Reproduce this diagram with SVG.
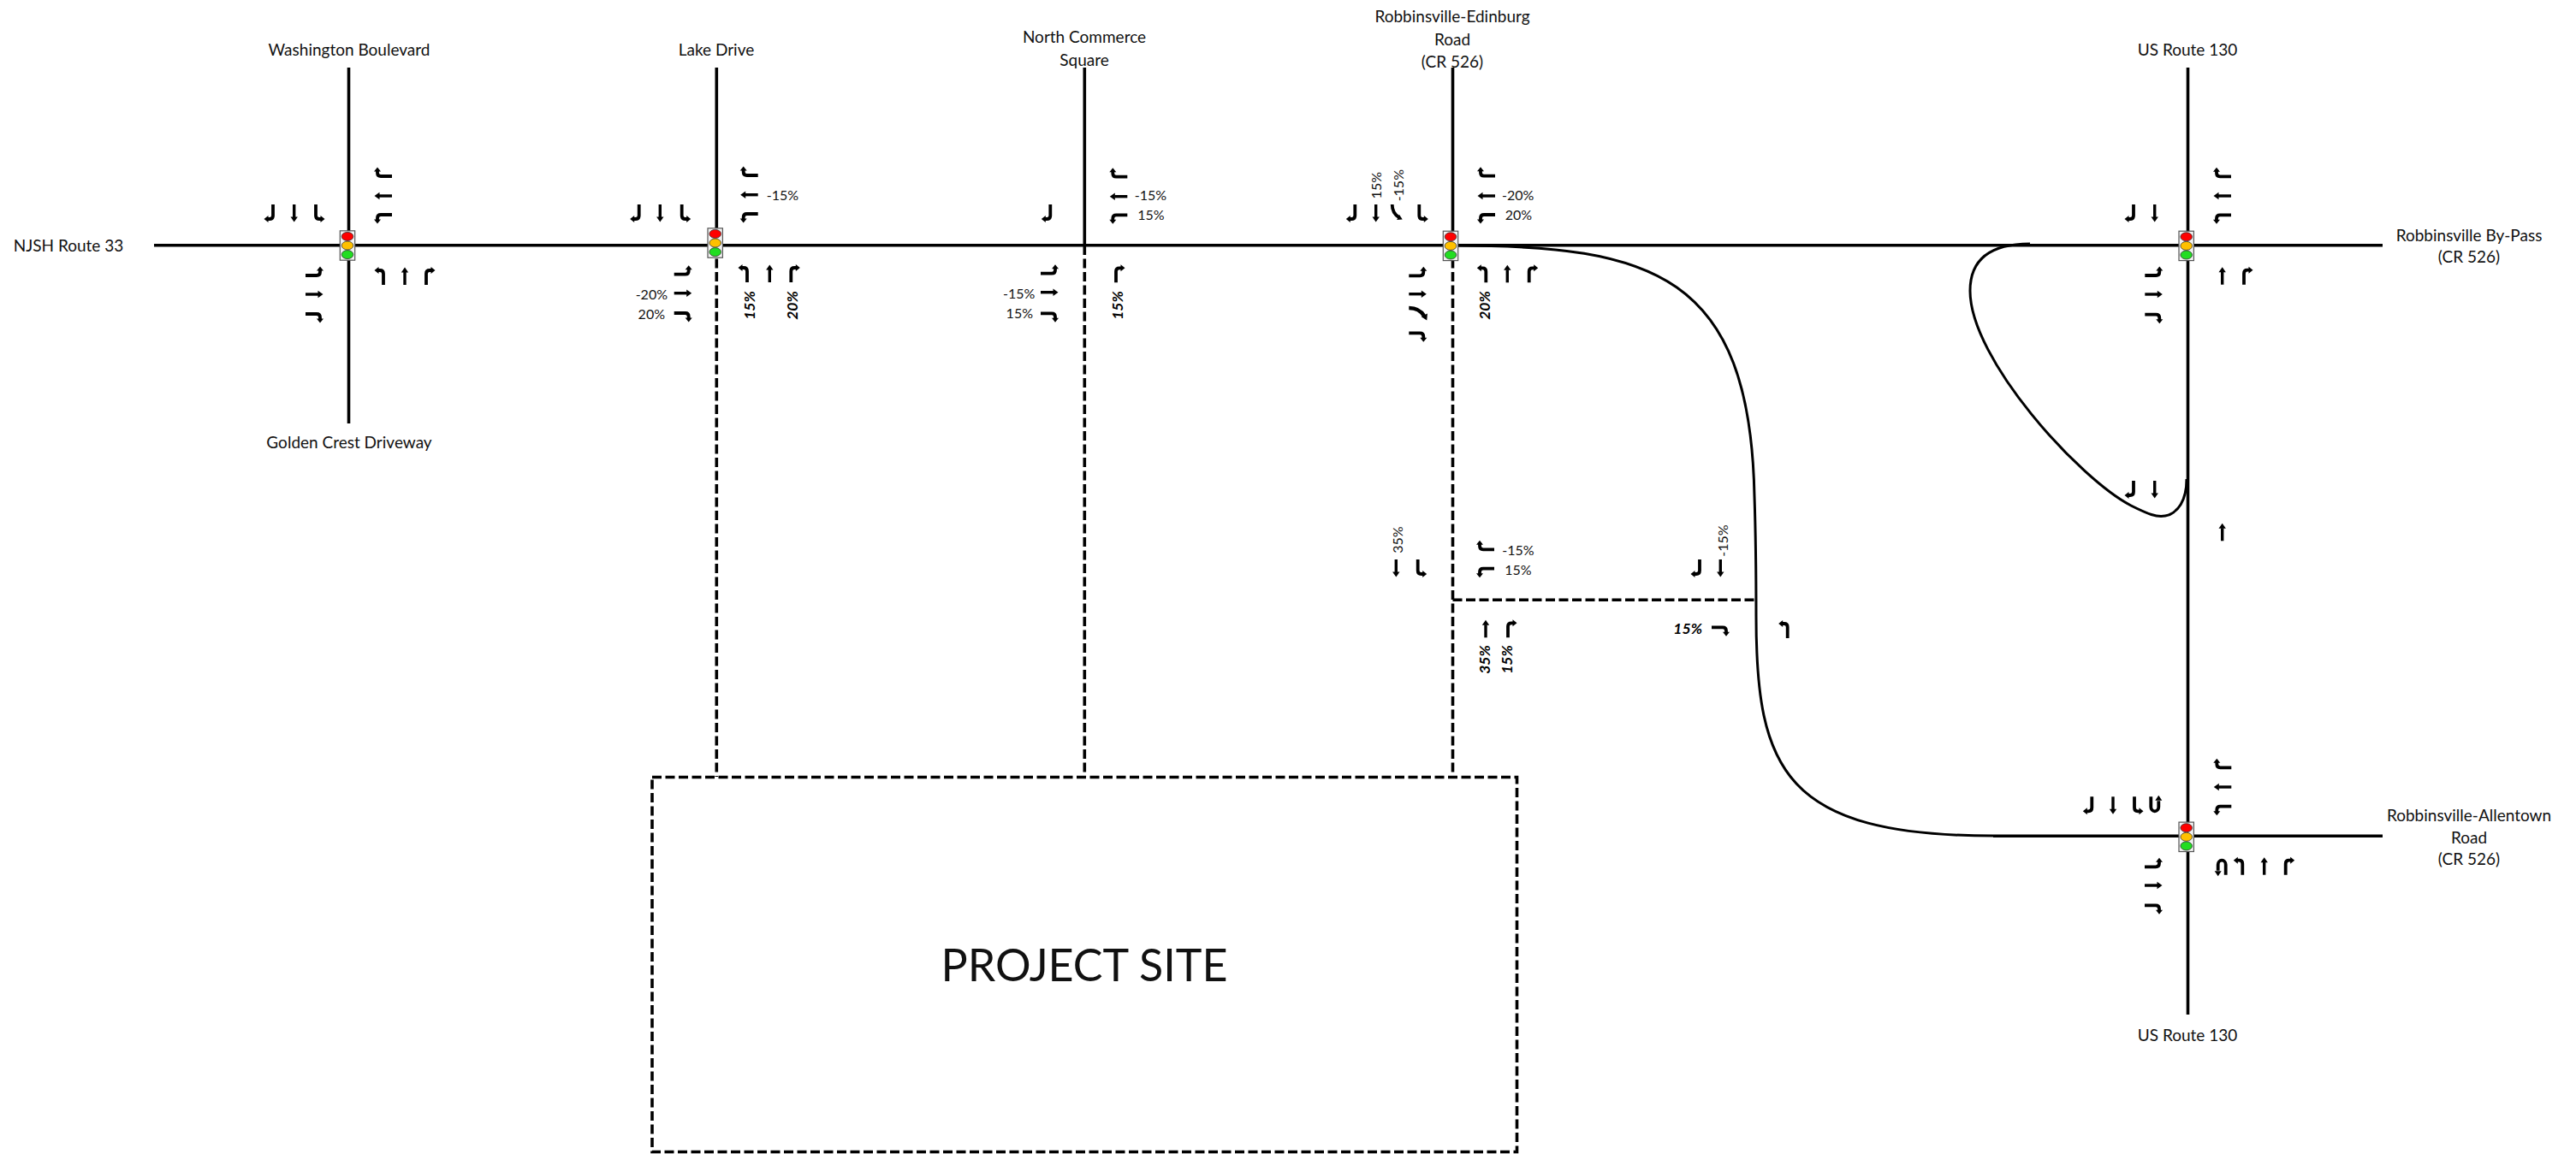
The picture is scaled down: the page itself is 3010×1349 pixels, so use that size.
<svg xmlns="http://www.w3.org/2000/svg" width="3010" height="1349" viewBox="0 0 3010 1349">
<style>
text{font-family:Lato,"Noto Sans",sans-serif;font-size:16px;fill:#111;dominant-baseline:middle}
.c{text-anchor:middle}
.e{text-anchor:end}
.n{font-size:19px;dominant-baseline:central}
.bi{font-weight:700;font-style:italic;fill:#000;font-size:17.5px}
.big{font-size:52px;text-anchor:middle}
.road{fill:none;stroke:#000;stroke-width:3.6}
.dash{fill:none;stroke:#000;stroke-width:3.6;stroke-dasharray:11 4.5}
.curve{fill:none;stroke:#000;stroke-width:3}
.a{fill:none;stroke:#000;stroke-width:3.8}
.th{fill:none;stroke:#000;stroke-width:3.4}
.h{fill:#000;stroke:none}
.box{fill:#f2f2f2;stroke:#555;stroke-width:1.2}
.lamp{stroke:#333;stroke-width:.8}
</style>
<defs>
<g id="T"><path class="th" d="M0,0V-15"/><path class="h" d="M0,-20.5L-4.2,-14.5H4.2Z"/></g>
<g id="L"><path class="a" d="M0,0V-13Q0,-17 -4,-17H-7"/><path class="h" d="M-10.5,-17L-5.5,-21V-13Z"/></g>
<g id="R"><path class="a" d="M0,0V-13Q0,-17 4,-17H7"/><path class="h" d="M10.5,-17L5.5,-21V-13Z"/></g>
<g id="BL"><path class="a" d="M0,0C0,-7 -3,-12 -8,-15"/><path class="h" d="M-12,-17.5L-5.5,-18L-8.5,-12Z"/></g>
<g id="BR"><path class="a" d="M0,0C0,-7 3,-12 8,-15"/><path class="h" d="M12,-17.5L5.5,-18L8.5,-12Z"/></g>
<g id="U"><path class="a" d="M0,0V-12A4.5,5 0 0 0 -9,-12V-5"/><path class="h" d="M-9,1.5L-13,-4.5H-5Z"/></g>
<g id="S"><rect class="box" x="-8.7" y="-17.2" width="17.4" height="34.4"/><ellipse class="lamp" cx="0" cy="-10.6" rx="6.8" ry="5" fill="#ff0000"/><ellipse class="lamp" cx="0" cy="0" rx="6.8" ry="5" fill="#ffc000"/><ellipse class="lamp" cx="0" cy="10.6" rx="6.8" ry="5" fill="#22dd22"/></g>
</defs>
<rect width="3010" height="1349" fill="#fff"/>
<g id="connectors">
<path class="road" d="M180,286.7H2784"/>
<path class="road" d="M407.5,79V495"/>
<path class="road" d="M837.3,79V287"/>
<path class="dash" d="M837.3,287V908"/>
<path class="road" d="M1267.3,79V287"/>
<path class="dash" d="M1267.3,287V908"/>
<path class="road" d="M1697.5,79V287"/>
<path class="dash" d="M1697.5,287V908"/>
<path class="dash" d="M1697.5,701.3H2052"/>
<path class="road" d="M2556.5,79V1186"/>
<path class="road" d="M2329,977.3H2784"/>
<path class="curve" d="M1700,287C1930,287 2045,320 2050,580C2052,640 2052,700 2052,720C2052,900 2085,977 2329,977"/>
<path class="curve" d="M2372,285C2330,285 2302,300 2302,340C2302,420 2430,560 2490,591C2510,601 2520,605 2530,603C2545,600 2555,585 2555,560"/>
</g>
<g id="project-site">
<rect class="dash" x="762" y="908.5" width="1010.5" height="438"/>
<text class="big" x="1267" y="1134">PROJECT SITE</text>
</g>
<g id="node-washington">
<use href="#S" x="406" y="287"/>
<use href="#R" transform="translate(319,239) rotate(180)"/>
<use href="#T" transform="translate(343.7,239) rotate(180)"/>
<use href="#L" transform="translate(369,239) rotate(180)"/>
<use href="#R" transform="translate(458,206) rotate(-90)"/>
<use href="#T" transform="translate(458,229) rotate(-90)"/>
<use href="#L" transform="translate(458,251) rotate(-90)"/>
<use href="#L" transform="translate(357,322) rotate(90)"/>
<use href="#T" transform="translate(357,344) rotate(90)"/>
<use href="#R" transform="translate(357,367) rotate(90)"/>
<use href="#L" transform="translate(448,333)"/>
<use href="#T" transform="translate(473,333)"/>
<use href="#R" transform="translate(498,333)"/>
<text class="c n" x="408" y="57">Washington Boulevard</text>
<text class="c n" x="408" y="516">Golden Crest Driveway</text>
<text class="c n" x="80" y="286">NJSH Route 33</text>
</g>
<g id="node-lake">
<use href="#S" x="835.7" y="284"/>
<use href="#R" transform="translate(746.7,239) rotate(180)"/>
<use href="#T" transform="translate(771.3,239) rotate(180)"/>
<use href="#L" transform="translate(796.7,239) rotate(180)"/>
<use href="#R" transform="translate(885.7,205) rotate(-90)"/>
<use href="#T" transform="translate(885.7,227.7) rotate(-90)"/>
<use href="#L" transform="translate(885.7,250) rotate(-90)"/>
<use href="#L" transform="translate(787.7,320.7) rotate(90)"/>
<use href="#T" transform="translate(787.7,342.7) rotate(90)"/>
<use href="#R" transform="translate(787.7,366) rotate(90)"/>
<use href="#L" transform="translate(873,330)"/>
<use href="#T" transform="translate(899.3,330)"/>
<use href="#R" transform="translate(924.3,330)"/>
<text x="895.7" y="230">-15%</text>
<text class="e" x="780" y="346">-20%</text>
<text class="e" x="777" y="369">20%</text>
<text class="c bi" dy="1" transform="translate(876.7,357) rotate(-90)">15%</text>
<text class="c bi" dy="1" transform="translate(926.7,357) rotate(-90)">20%</text>
<text class="c n" x="837" y="57">Lake Drive</text>
</g>
<g id="node-commerce">
<use href="#R" transform="translate(1227.3,239) rotate(180)"/>
<use href="#R" transform="translate(1317.3,206.7) rotate(-90)"/>
<use href="#T" transform="translate(1317.3,229.7) rotate(-90)"/>
<use href="#L" transform="translate(1317.3,251.3) rotate(-90)"/>
<use href="#L" transform="translate(1216,319.7) rotate(90)"/>
<use href="#T" transform="translate(1216,341.7) rotate(90)"/>
<use href="#R" transform="translate(1216,366.3) rotate(90)"/>
<use href="#R" transform="translate(1304,330.3)"/>
<text x="1325.7" y="230">-15%</text>
<text x="1329.3" y="253">15%</text>
<text class="e" x="1209.3" y="345">-15%</text>
<text class="e" x="1207" y="368">15%</text>
<text class="c bi" dy="1" transform="translate(1306.7,357) rotate(-90)">15%</text>
<text class="c n" x="1267" y="42">North Commerce</text>
<text class="c n" x="1267" y="69">Square</text>
</g>
<g id="node-edinburg">
<use href="#S" x="1695" y="287.4"/>
<use href="#R" transform="translate(1583.3,239) rotate(180)"/>
<use href="#T" transform="translate(1607.7,239) rotate(180)"/>
<use href="#BL" transform="translate(1626.7,239) rotate(180)"/>
<use href="#L" transform="translate(1658.3,239) rotate(180)"/>
<use href="#R" transform="translate(1747,205.7) rotate(-90)"/>
<use href="#T" transform="translate(1747,229) rotate(-90)"/>
<use href="#L" transform="translate(1747,251) rotate(-90)"/>
<use href="#L" transform="translate(1646.3,322.3) rotate(90)"/>
<use href="#T" transform="translate(1646.3,343.7) rotate(90)"/>
<use href="#BR" transform="translate(1646.3,360) rotate(90) scale(1.2)"/>
<use href="#R" transform="translate(1646.3,389.3) rotate(90)"/>
<use href="#L" transform="translate(1736.3,330.3)"/>
<use href="#T" transform="translate(1761.3,330.3)"/>
<use href="#R" transform="translate(1786.7,330.3)"/>
<text class="c" dy="1" transform="translate(1609,216.7) rotate(-90)">15%</text>
<text class="c" dy="1" transform="translate(1635,216.7) rotate(-90)">-15%</text>
<text x="1755" y="230">-20%</text>
<text x="1758.7" y="253">20%</text>
<text class="c bi" dy="1" transform="translate(1735.7,357) rotate(-90)">20%</text>
<text class="c n" x="1697" y="18">Robbinsville-Edinburg</text>
<text class="c n" x="1697" y="45">Road</text>
<text class="c n" x="1697" y="71">(CR 526)</text>
</g>
<g id="node-site-driveway">
<use href="#T" transform="translate(1631.3,654) rotate(180)"/>
<use href="#L" transform="translate(1656.7,654) rotate(180)"/>
<use href="#R" transform="translate(1746,642.3) rotate(-90)"/>
<use href="#L" transform="translate(1746,664.7) rotate(-90)"/>
<use href="#T" transform="translate(1736,745.3)"/>
<use href="#R" transform="translate(1762,745.3)"/>
<use href="#R" transform="translate(1986,654) rotate(180)"/>
<use href="#T" transform="translate(2010.3,654) rotate(180)"/>
<use href="#R" transform="translate(2000,733.3) rotate(90)"/>
<use href="#L" transform="translate(2088.7,746)"/>
<text class="c" dy="1" transform="translate(1634.3,631) rotate(-90)">35%</text>
<text x="1755.3" y="644.7">-15%</text>
<text x="1758.3" y="668">15%</text>
<text class="c" dy="1" transform="translate(2014.3,632) rotate(-90)">-15%</text>
<text class="c bi" dy="1" transform="translate(1735.3,771) rotate(-90)">35%</text>
<text class="c bi" dy="1" transform="translate(1761.7,771) rotate(-90)">15%</text>
<text class="e bi" x="1989" y="736.7">15%</text>
</g>
<g id="node-us130-north">
<use href="#S" x="2554.7" y="287.4"/>
<use href="#R" transform="translate(2493,239) rotate(180)"/>
<use href="#T" transform="translate(2517.7,239) rotate(180)"/>
<use href="#R" transform="translate(2607,206.3) rotate(-90)"/>
<use href="#T" transform="translate(2607,229) rotate(-90)"/>
<use href="#L" transform="translate(2607,251.3) rotate(-90)"/>
<use href="#L" transform="translate(2506.3,322) rotate(90)"/>
<use href="#T" transform="translate(2506.3,344) rotate(90)"/>
<use href="#R" transform="translate(2506.3,367.7) rotate(90)"/>
<use href="#T" transform="translate(2596.7,332.7)"/>
<use href="#R" transform="translate(2622,332.7)"/>
<text class="c n" x="2556" y="57">US Route 130</text>
<text class="c n" x="2885" y="274.5">Robbinsville By-Pass</text>
<text class="c n" x="2885" y="299.5">(CR 526)</text>
</g>
<g id="node-us130-jughandle">
<use href="#R" transform="translate(2493,562) rotate(180)"/>
<use href="#T" transform="translate(2517.7,562) rotate(180)"/>
<use href="#T" transform="translate(2596.7,632.3)"/>
</g>
<g id="node-us130-south">
<use href="#S" x="2554.7" y="978.3"/>
<use href="#R" transform="translate(2444.3,931.3) rotate(180)"/>
<use href="#T" transform="translate(2469,931.3) rotate(180)"/>
<use href="#L" transform="translate(2494,931.3) rotate(180)"/>
<use href="#U" transform="translate(2513.3,931.3) rotate(180)"/>
<use href="#R" transform="translate(2607.3,897.3) rotate(-90)"/>
<use href="#T" transform="translate(2607.3,920) rotate(-90)"/>
<use href="#L" transform="translate(2607.3,942.7) rotate(-90)"/>
<use href="#L" transform="translate(2506,1013.3) rotate(90)"/>
<use href="#T" transform="translate(2506,1035) rotate(90)"/>
<use href="#R" transform="translate(2506,1058.3) rotate(90)"/>
<use href="#U" transform="translate(2600.7,1022.7)"/>
<use href="#L" transform="translate(2620.3,1022.7)"/>
<use href="#T" transform="translate(2645.7,1022.7)"/>
<use href="#R" transform="translate(2670.7,1022.7)"/>
<text class="c n" x="2556" y="1209">US Route 130</text>
<text class="c n" x="2885" y="952">Robbinsville-Allentown</text>
<text class="c n" x="2885" y="978">Road</text>
<text class="c n" x="2885" y="1003">(CR 526)</text>
</g>
</svg>
